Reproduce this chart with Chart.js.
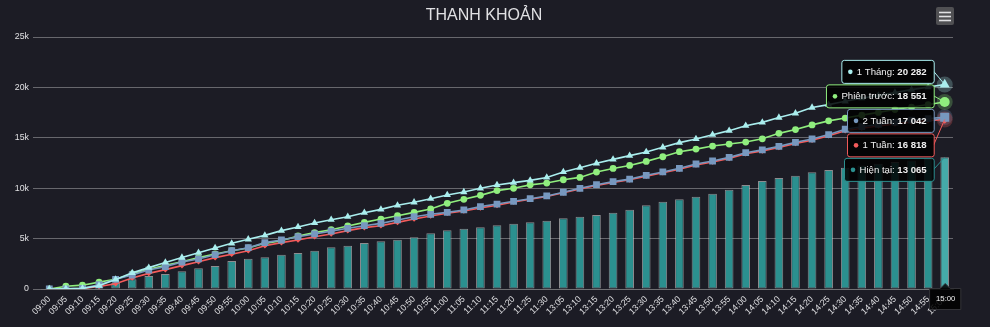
<!DOCTYPE html>
<html lang="vi">
<head>
    <meta charset="UTF-8">
    <title>Thanh khoản</title>
    <script src="https://cdn.jsdelivr.net/npm/chart.js@4.4.1/dist/chart.umd.min.js"></script>
    <style>
        body {
            margin: 0;
            background-color: #1c1c25;
            font-family: "Liberation Sans", Arial, sans-serif;
        }
        .chart-box {
            position: relative;
            width: 990px;
            height: 327px;
        }
    </style>
</head>
<body>
    <div class="chart-box">
        <canvas id="liquidityChart"></canvas>
    </div>

    <script>
        // Phiên giao dịch: sáng 09:00 - 11:30, chiều 13:05 - 15:00
        const timeLabels = [
            '09:00','09:05','09:10','09:15','09:20','09:25','09:30','09:35','09:40','09:45','09:50','09:55',
            '10:00','10:05','10:10','10:15','10:20','10:25','10:30','10:35','10:40','10:45','10:50','10:55',
            '11:00','11:05','11:10','11:15','11:20','11:25','11:30',
            '13:05','13:10','13:15','13:20','13:25','13:30','13:35','13:40','13:45','13:50','13:55',
            '14:00','14:05','14:10','14:15','14:20','14:25','14:30','14:35','14:40','14:45','14:50','14:55',
            '15:00'
        ];

        // Thanh khoản lũy kế (tỷ đồng)
        const hienTai = [
            0, 20, 60, 300, 600, 960, 1290, 1490, 1750, 2050, 2280, 2780,
            3010, 3150, 3400, 3570, 3800, 4130, 4300, 4560, 4730, 4890, 5130, 5520,
            5820, 5980, 6120, 6320, 6480, 6610, 6780,
            7010, 7170, 7340, 7570, 7870, 8300, 8660, 8900, 9160, 9460, 9850,
            10320, 10720, 11010, 11240, 11570, 11810, 12040, 12250, 12430, 12600, 12760, 12900,
            13065
        ];
        const phienTruoc = [
            0, 280, 380, 680, 960, 1490, 1950, 2350, 2710, 3110, 3470, 3800,
            4070, 4530, 4800, 5260, 5590, 5880, 6250, 6610, 6940, 7270, 7600, 7940,
            8500, 8900, 9290, 9760, 9990, 10330, 10510,
            10840, 11070, 11600, 11960, 12260, 12660, 13120, 13620, 13880, 14180, 14380,
            14580, 14900, 15440, 15820, 16280, 16680, 16960, 17250, 17520, 17800, 18050, 18300,
            18551
        ];
        const motTuan = [
            0, 0, 40, 250, 520, 1100, 1550, 1920, 2320, 2710, 3110, 3440,
            3800, 4300, 4600, 4860, 5190, 5460, 5790, 6090, 6280, 6610, 6940, 7240,
            7510, 7740, 8040, 8300, 8630, 8900, 9170,
            9540, 9920, 10280, 10580, 10830, 11200, 11530, 11880, 12300, 12600, 12960,
            13420, 13700, 14040, 14440, 14770, 15200, 15700, 15950, 16170, 16380, 16560, 16700,
            16818
        ];
        const haiTuan = [
            0, 20, 60, 420, 960, 1390, 1880, 2220, 2680, 2980, 3400, 3800,
            4100, 4600, 4860, 5190, 5460, 5740, 6020, 6280, 6510, 6850, 7170, 7410,
            7600, 7840, 8170, 8430, 8700, 8960, 9230,
            9600, 9990, 10350, 10650, 10900, 11280, 11610, 11970, 12400, 12700, 13060,
            13520, 13800, 14150, 14550, 14880, 15320, 15850, 16100, 16330, 16550, 16750, 16900,
            17042
        ];
        const motThang = [
            0, 30, 60, 330, 940, 1600, 2120, 2630, 3120, 3600, 4070, 4530,
            4930, 5320, 5790, 6150, 6550, 6870, 7170, 7570, 7900, 8300, 8600, 8960,
            9330, 9620, 9990, 10320, 10550, 10780, 11070,
            11610, 12030, 12470, 12860, 13230, 13590, 14060, 14520, 14880, 15310, 15710,
            16200, 16530, 17010, 17430, 18000, 18290, 18620, 18930, 19210, 19500, 19780, 20030,
            20282
        ];

        const yMax = 25000;
        const yStep = 5000;

        const FONT = '"Liberation Sans", Arial, sans-serif';
        const TEXT_COLOR = '#E0E0E3';
        const GRID_COLOR = '#67676d';

        // the last slot is shown in its hovered state
        const hoverIndex = timeLabels.length - 1;

        function formatValue(v) {
            return Math.round(v).toString().replace(/\B(?=(\d{3})+(?!\d))/g, ' ');
        }

        function hexAlpha(hex, a) {
            const n = parseInt(hex.slice(1), 16);
            return `rgba(${(n >> 16) & 255}, ${(n >> 8) & 255}, ${n & 255}, ${a})`;
        }

        function lineSeries(label, data, color, style, radius, order) {
            return {
                type: 'line',
                label: label,
                data: data,
                borderColor: color,
                backgroundColor: color,
                borderWidth: 1.6,
                pointStyle: style,
                pointRadius: ctx => ctx.dataIndex === hoverIndex ? radius + 1.6 : radius,
                pointBackgroundColor: color,
                pointBorderWidth: 0,
                tension: 0,
                order: order
            };
        }

        function roundRect(ctx, x, y, w, h, r) {
            ctx.beginPath();
            ctx.moveTo(x + r, y);
            ctx.lineTo(x + w - r, y);
            ctx.quadraticCurveTo(x + w, y, x + w, y + r);
            ctx.lineTo(x + w, y + h - r);
            ctx.quadraticCurveTo(x + w, y + h, x + w - r, y + h);
            ctx.lineTo(x + r, y + h);
            ctx.quadraticCurveTo(x, y + h, x, y + h - r);
            ctx.lineTo(x, y + r);
            ctx.quadraticCurveTo(x, y, x + r, y);
            ctx.closePath();
        }

        // halos, title, menu button and the split tooltip of the hovered slot
        const hoverOverlay = {
            id: 'hoverOverlay',
            beforeDatasetsDraw(chart) {
                const ctx = chart.ctx;
                chart.data.datasets.forEach((ds, i) => {
                    if (ds.type !== 'line') return;
                    const pt = chart.getDatasetMeta(i).data[hoverIndex];
                    ctx.save();
                    ctx.fillStyle = hexAlpha(ds.borderColor, 0.25);
                    ctx.beginPath();
                    ctx.arc(pt.x, pt.y, 8, 0, Math.PI * 2);
                    ctx.fill();
                    ctx.restore();
                });
            },
            afterDraw(chart) {
                const ctx = chart.ctx;
                const area = chart.chartArea;
                ctx.save();

                // title
                ctx.fillStyle = TEXT_COLOR;
                ctx.font = `16px ${FONT}`;
                ctx.textAlign = 'center';
                ctx.textBaseline = 'alphabetic';
                ctx.fillText('THANH KHOẢN', chart.width / 2 - 11, 19.5);

                // menu button
                const bx = area.right - 17, by = 7;
                roundRect(ctx, bx, by, 18, 18, 2);
                ctx.fillStyle = '#505053';
                ctx.fill();
                ctx.strokeStyle = TEXT_COLOR;
                ctx.lineWidth = 1.6;
                [5.5, 9.5, 13.5].forEach(dy => {
                    ctx.beginPath();
                    ctx.moveTo(bx + 3, by + dy);
                    ctx.lineTo(bx + 15, by + dy);
                    ctx.stroke();
                });

                // one box per series, stacked beside the hovered points
                const items = chart.data.datasets.map((ds, i) => {
                    const el = chart.getDatasetMeta(i).data[hoverIndex];
                    const color = ds.type === 'line' ? ds.borderColor : ds.baseColor;
                    return { name: ds.label, value: ds.data[hoverIndex], color, ax: el.x, ay: el.y };
                }).sort((a, b) => a.ay - b.ay);

                const boxH = 23, step = 24.5, stackShift = 5;
                const mean = items.reduce((s, it) => s + it.ay, 0) / items.length;
                const top0 = mean - items.length * step / 2 + stackShift;

                items.forEach((it, k) => {
                    const nameText = `${it.name}: `;
                    const valText = formatValue(it.value);
                    ctx.font = `9.6px ${FONT}`;
                    const wName = ctx.measureText(nameText).width;
                    ctx.font = `bold 9.6px ${FONT}`;
                    const wVal = ctx.measureText(valText).width;
                    const w = 15.5 + wName + wVal + 7;
                    const right = it.ax - 11;
                    const left = right - w;
                    const y = top0 + k * step;
                    const mid = y + boxH / 2;

                    // connector to the point
                    ctx.strokeStyle = it.color;
                    ctx.lineWidth = 1;
                    ctx.beginPath();
                    ctx.moveTo(right, mid);
                    ctx.lineTo(it.ax, it.ay);
                    ctx.stroke();

                    roundRect(ctx, left + 0.5, y + 0.5, w, boxH, 2.5);
                    ctx.fillStyle = 'rgba(0, 0, 0, 0.85)';
                    ctx.fill();
                    ctx.stroke();

                    ctx.fillStyle = it.color;
                    ctx.beginPath();
                    ctx.arc(left + 9, mid + 0.5, 2.3, 0, Math.PI * 2);
                    ctx.fill();

                    ctx.textAlign = 'left';
                    ctx.textBaseline = 'middle';
                    ctx.fillStyle = '#F0F0F0';
                    ctx.font = `9.6px ${FONT}`;
                    ctx.fillText(nameText, left + 15.5, mid + 0.5);
                    ctx.font = `bold 9.6px ${FONT}`;
                    ctx.fillText(valText, left + 15.5 + wName, mid + 0.5);
                });

                // header label on the x axis
                const hx = chart.scales.x.getPixelForValue(hoverIndex);
                const hy = area.bottom - 1;
                ctx.font = `7.7px ${FONT}`;
                const hText = timeLabels[hoverIndex];
                const hw = ctx.measureText(hText).width + 12;
                const hh = 21;
                ctx.fillStyle = 'rgba(0, 0, 0, 0.85)';
                ctx.strokeStyle = '#333338';
                ctx.lineWidth = 1;
                ctx.beginPath();
                ctx.moveTo(hx - hw / 2 + 0.5, hy + 0.5);
                ctx.lineTo(hx - 4.5, hy + 0.5);
                ctx.lineTo(hx + 0.5, hy - 4.5);
                ctx.lineTo(hx + 5.5, hy + 0.5);
                ctx.lineTo(hx + hw / 2 + 0.5, hy + 0.5);
                ctx.lineTo(hx + hw / 2 + 0.5, hy + hh + 0.5);
                ctx.lineTo(hx - hw / 2 + 0.5, hy + hh + 0.5);
                ctx.closePath();
                ctx.fill();
                ctx.stroke();
                ctx.fillStyle = '#F0F0F0';
                ctx.textAlign = 'center';
                ctx.textBaseline = 'middle';
                ctx.fillText(hText, hx + 1, hy + hh / 2 + 0.5);

                ctx.restore();
            }
        };

        const barColor = '#2b908f';
        const barHoverColor = '#45aaa9';

        const ctx = document.getElementById('liquidityChart').getContext('2d');
        new Chart(ctx, {
            type: 'bar',
            data: {
                labels: timeLabels,
                datasets: [
                    lineSeries('1 Tháng', motThang, '#aaeeee', 'triangle', 4.2, 1),
                    lineSeries('2 Tuần', haiTuan, '#7798BF', 'rect', 4.8, 2),
                    lineSeries('1 Tuần', motTuan, '#f45b5b', 'rectRot', 2.8, 3),
                    lineSeries('Phiên trước', phienTruoc, '#90ee7e', 'circle', 3.4, 4),
                    {
                        type: 'bar',
                        label: 'Hiện tại',
                        data: hienTai,
                        baseColor: barColor,
                        backgroundColor: hienTai.map((v, i) => i === hoverIndex ? barHoverColor : barColor),
                        borderColor: 'rgba(215, 215, 215, 0.6)',
                        borderWidth: 1,
                        borderSkipped: false,
                        categoryPercentage: 0.6,
                        barPercentage: 0.87,
                        order: 5
                    }
                ]
            },
            options: {
                responsive: true,
                maintainAspectRatio: false,
                animation: false,
                events: [],
                layout: {
                    padding: { top: 37, right: 37, bottom: 0, left: 0 }
                },
                plugins: {
                    legend: { display: false },
                    title: { display: false },
                    tooltip: { enabled: false }
                },
                scales: {
                    x: {
                        offset: true,
                        grid: { display: false, drawTicks: false },
                        border: { display: true, color: '#707073' },
                        ticks: {
                            color: TEXT_COLOR,
                            font: { family: FONT, size: 8.8 },
                            autoSkip: false,
                            minRotation: 45,
                            maxRotation: 45,
                            padding: 5
                        },
                        afterFit(scale) { scale.height = 38; }
                    },
                    y: {
                        min: 0,
                        max: yMax,
                        grid: { color: GRID_COLOR, tickLength: 8 },
                        border: { display: false },
                        ticks: {
                            stepSize: yStep,
                            color: TEXT_COLOR,
                            font: { family: FONT, size: 8.8 },
                            padding: 4,
                            callback: v => v === 0 ? '0' : (v / 1000) + 'k'
                        },
                        afterFit(scale) { scale.width = 41; }
                    }
                }
            },
            plugins: [hoverOverlay]
        });
    </script>
</body>
</html>
